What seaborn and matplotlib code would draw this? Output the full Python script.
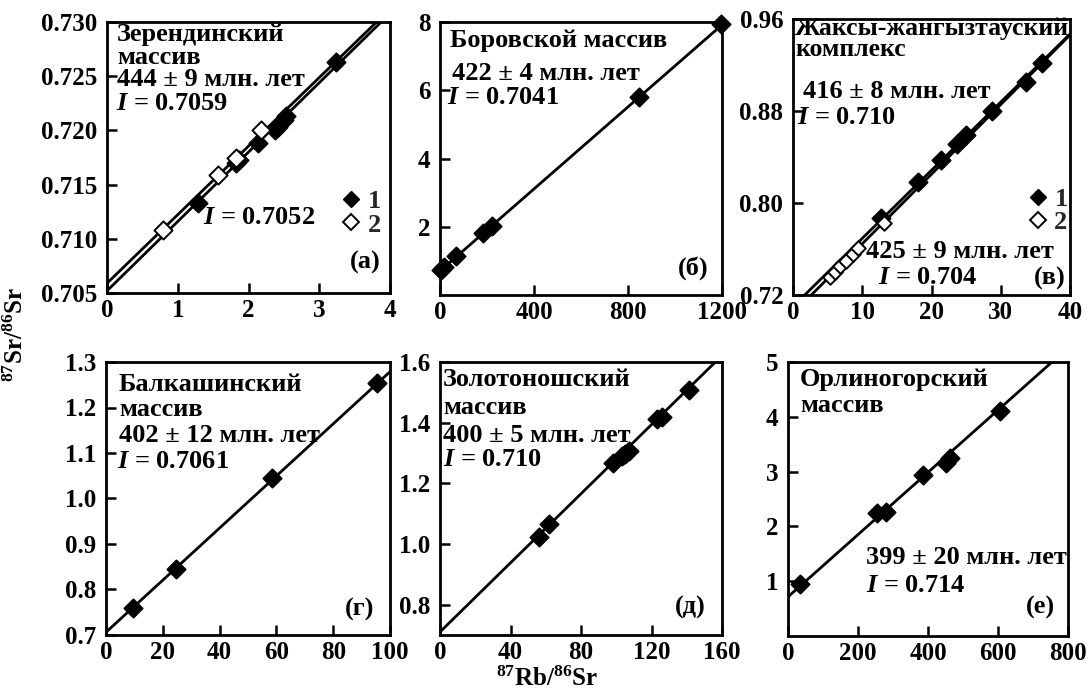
import numpy as np
import pandas as pd
import matplotlib
matplotlib.use("Agg")
import matplotlib.pyplot as plt
from matplotlib.lines import Line2D
import seaborn as sns

sns.set_theme(style="ticks")
plt.rcParams["font.family"] = ["Liberation Serif", "DejaVu Serif"]
plt.rcParams["font.weight"] = "bold"
plt.rcParams["mathtext.fontset"] = "custom"
plt.rcParams["mathtext.rm"] = "Liberation Serif:bold"
plt.rcParams["mathtext.it"] = "Liberation Serif:italic:bold"
plt.rcParams["mathtext.bf"] = "Liberation Serif:bold"

# Rb-Sr decay constant, 1/yr
LAMBDA_RB = 1.42e-11

# (а) Зерендинский массив: 1 - filled, 2 - open
a_rb_1 = [1.28, 1.83, 1.87, 2.14, 2.38, 2.42, 2.50, 2.53, 3.24]
a_sr_1 = [0.7133, 0.7170, 0.7173, 0.7188, 0.7200, 0.7203, 0.7210, 0.7213, 0.7263]
a_rb_2 = [0.79, 1.57, 1.83, 2.18]
a_sr_2 = [0.7108, 0.7159, 0.7175, 0.7200]
a_age, a_I = 444, 0.7059
a_I_1, a_slope_1 = 0.7052, 0.0064

# (б) Боровской массив
b_rb = [5, 18, 70, 185, 220, 845, 1195]
b_sr = [0.74, 0.82, 1.13, 1.82, 2.03, 5.80, 7.95]
b_age, b_I = 422, 0.7041

# (в) Жаксы-жангызтауский комплекс
c_rb_1 = [12.7, 18.0, 21.3, 23.7, 25.0, 28.7, 33.6, 36.0]
c_sr_1 = [0.787, 0.818, 0.837, 0.851, 0.859, 0.880, 0.905, 0.922]
c_rb_2 = [5.3, 6.0, 6.8, 7.6, 8.6, 9.4, 13.1]
c_sr_2 = [0.736, 0.740, 0.745, 0.750, 0.756, 0.761, 0.783]
c_age_1, c_I_1 = 416, 0.710
c_age_2, c_I_2 = 425, 0.704

# (г) Балкашинский массив
d_rb = [9.5, 24.6, 58.6, 95.5]
d_sr = [0.759, 0.846, 1.045, 1.254]
d_age, d_I = 402, 0.7061

# (д) Золотоношский массив
e_rb = [56, 62, 98, 103, 105, 107, 123, 126, 141]
e_sr = [1.024, 1.066, 1.266, 1.290, 1.298, 1.305, 1.412, 1.420, 1.508]
e_age, e_I = 400, 0.710

# (е) Орлиногорский массив
f_rb = [34, 254, 280, 386, 452, 462, 605]
f_sr = [0.95, 2.25, 2.26, 2.93, 3.16, 3.24, 4.10]
f_age, f_I = 399, 0.714


def slope_from_age(age_ma):
    return np.exp(LAMBDA_RB * age_ma * 1e6) - 1.0


W, H = 1089, 694
fig = plt.figure(figsize=(W / 100, H / 100), dpi=100)
TXT = 19


def add_axes(x0, y0, x1, y1):
    return fig.add_axes([x0 / W, 1 - y1 / H, (x1 - x0) / W, (y1 - y0) / H])


def ftext(x, y, s, **kw):
    kw.setdefault("fontsize", TXT)
    kw.setdefault("color", "black")
    kw.setdefault("fontweight", "bold")
    fig.text(x / W, 1 - y / H, s, **kw)


def isochron(ax, intercept, slope, xlim):
    xs = np.array(xlim, dtype=float)
    line = pd.DataFrame({"x": xs, "y": intercept + slope * xs})
    sns.lineplot(data=line, x="x", y="y", ax=ax, color="black", lw=2.0,
                 estimator=None, sort=False)


def points(ax, xs, ys, filled=True, size=85):
    sns.scatterplot(x=xs, y=ys, ax=ax, marker="D", s=size,
                    color="black" if filled else "white",
                    edgecolor="black", linewidth=1.4, zorder=5, clip_on=False)


def style(ax, xlim, ylim, xticks, yticks, yfmt):
    ax.set_xlim(xlim)
    ax.set_ylim(ylim)
    ax.set_xticks(xticks)
    ax.set_yticks(yticks)
    ax.set_yticklabels([yfmt.format(v) for v in yticks])
    ax.set_xticklabels([f"{v:g}" for v in xticks])
    ax.set_xlabel("")
    ax.set_ylabel("")
    for sp in ax.spines.values():
        sp.set_linewidth(2.0)
        sp.set_color("black")
    ax.tick_params(direction="in", length=7, width=1.8, labelsize=18,
                   colors="black")
    ax.tick_params(axis="y", pad=7)
    ax.tick_params(axis="x", pad=4)
    for lab in ax.get_xticklabels() + ax.get_yticklabels():
        lab.set_fontweight("bold")


def legend(ax, loc_xy, labels):
    handles = [
        Line2D([], [], ls="none", marker="D", ms=8, mfc="black", mec="black"),
        Line2D([], [], ls="none", marker="D", ms=8, mfc="white", mec="black", mew=1.4),
    ]
    ax.legend(handles, labels, loc="center left",
              bbox_to_anchor=loc_xy, frameon=False,
              prop={"size": TXT, "weight": "bold"},
              handlelength=0.6, handletextpad=0.3, labelspacing=0.0,
              borderpad=0, borderaxespad=0)


# ---------- (а)
ax = add_axes(107, 22, 390, 293)
isochron(ax, a_I, slope_from_age(a_age), (0, 4))
isochron(ax, a_I_1, a_slope_1, (0, 4))
points(ax, a_rb_1, a_sr_1, True)
points(ax, a_rb_2, a_sr_2, False)
style(ax, (0, 4), (0.705, 0.730), [0, 1, 2, 3, 4],
      [0.705, 0.710, 0.715, 0.720, 0.725, 0.730], "{:.3f}")
legend(ax, (0.835, 0.295), ["$\\mathit{1}$", "$\\mathit{2}$"])
ftext(117, 35, "Зерендинский", va="center")
ftext(117, 57, "массив", va="center")
ftext(117, 80, f"{a_age} ± 9 млн. лет", va="center")
ftext(116, 103, f"$\\mathit{{I}}$ = {a_I}", va="center")
ftext(203, 217, f"$\\mathit{{I}}$ = {a_I_1}", va="center")
ftext(365, 262, "(а)", va="center", ha="center")

# ---------- (б)
ax = add_axes(440, 22, 722, 295)
isochron(ax, b_I, slope_from_age(b_age), (0, 1200))
points(ax, b_rb, b_sr, True)
style(ax, (0, 1200), (0, 8), [0, 400, 800, 1200], [2, 4, 6, 8], "{:g}")
ftext(450, 40, "Боровской массив", va="center")
ftext(452, 74, f"{b_age} ± 4 млн. лет", va="center")
ftext(447, 97, f"$\\mathit{{I}}$ = {b_I}", va="center")
ftext(693, 268, "(б)", va="center", ha="center")

# ---------- (в)
ax = add_axes(793, 19, 1070, 295)
isochron(ax, c_I_1, slope_from_age(c_age_1), (0, 40))
isochron(ax, c_I_2, slope_from_age(c_age_2), (0, 40))
points(ax, c_rb_1, c_sr_1, True)
points(ax, c_rb_2, c_sr_2, False, size=55)
style(ax, (0, 40), (0.72, 0.96), [0, 10, 20, 30, 40],
      [0.72, 0.80, 0.88, 0.96], "{:.2f}")
legend(ax, (0.855, 0.305), ["$\\mathit{1}$", "2"])
ftext(795, 28, "Жаксы-жангызтауский", va="center", fontsize=18.5)
ftext(795, 50, "комплекс", va="center", fontsize=18.5)
ftext(803, 92, f"{c_age_1} ± 8 млн. лет", va="center")
ftext(797, 117, f"$\\mathit{{I}}$ = {c_I_1:.3f}", va="center")
ftext(866, 251, f"{c_age_2} ± 9 млн. лет", va="center")
ftext(878, 277, f"$\\mathit{{I}}$ = {c_I_2:.3f}", va="center")
ftext(1050, 278, "(в)", va="center", ha="center")

# ---------- (г)
ax = add_axes(106, 362, 390, 635)
isochron(ax, d_I, slope_from_age(d_age), (0, 100))
points(ax, d_rb, d_sr, True)
style(ax, (0, 100), (0.7, 1.3), [0, 20, 40, 60, 80, 100],
      [0.7, 0.8, 0.9, 1.0, 1.1, 1.2, 1.3], "{:.1f}")
ftext(119, 384, "Балкашинский", va="center")
ftext(119, 410, "массив", va="center")
ftext(119, 436, f"{d_age} ± 12 млн. лет", va="center")
ftext(117, 461, f"$\\mathit{{I}}$ = {d_I}", va="center")
ftext(360, 609, "(г)", va="center", ha="center")

# ---------- (д)
ax = add_axes(440, 362, 722, 635)
isochron(ax, e_I, slope_from_age(e_age), (0, 160))
points(ax, e_rb, e_sr, True)
style(ax, (0, 160), (0.7, 1.6), [0, 40, 80, 120, 160],
      [0.8, 1.0, 1.2, 1.4, 1.6], "{:.1f}")
ftext(443, 380, "Золотоношский", va="center")
ftext(443, 408, "массив", va="center")
ftext(443, 436, f"{e_age} ± 5 млн. лет", va="center")
ftext(443, 460, f"$\\mathit{{I}}$ = {e_I:.3f}", va="center")
ftext(690, 607, "(д)", va="center", ha="center")

# ---------- (е)
ax = add_axes(788, 362, 1068, 636)
isochron(ax, f_I, slope_from_age(f_age), (0, 800))
points(ax, f_rb, f_sr, True)
style(ax, (0, 800), (0, 5), [0, 200, 400, 600, 800], [1, 2, 3, 4, 5], "{:g}")
ftext(800, 380, "Орлиногорский", va="center")
ftext(800, 405, "массив", va="center")
ftext(866, 558, f"{f_age} ± 20 млн. лет", va="center")
ftext(866, 585, f"$\\mathit{{I}}$ = {f_I:.3f}", va="center")
ftext(1040, 607, "(е)", va="center", ha="center")

# shared axis titles
ftext(16, 335, "$^{87}$Sr/$^{86}$Sr", rotation=90, va="center", ha="center",
      fontsize=18)
ftext(547, 679, "$^{87}$Rb/$^{86}$Sr", va="center", ha="center", fontsize=18)

fig.savefig("out.png", dpi=100)
